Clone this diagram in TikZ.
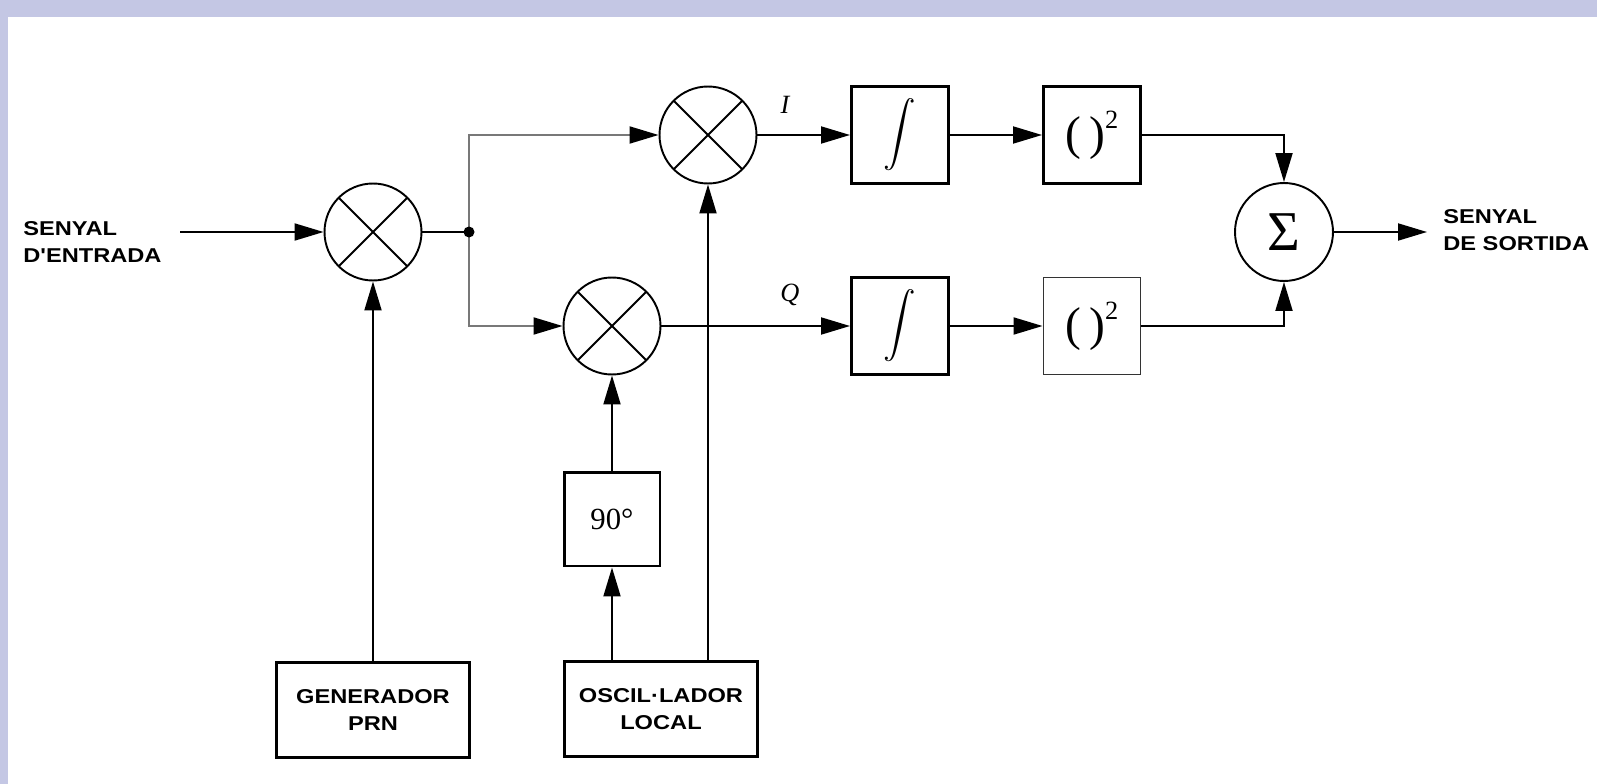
\documentclass[tikz,border=0pt]{standalone}
\usepackage{fontspec}
\usepackage{graphicx}
\setmainfont{Liberation Serif}
\newfontfamily\lblfont[FakeStretch=1.18]{Liberation Sans}
\usetikzlibrary{arrows.meta}
\definecolor{lavback}{RGB}{196,199,228}
\definecolor{splitgray}{RGB}{120,120,120}

\tikzset{
  mixer/.style={circle,draw,line width=1.1pt,minimum size=1.94cm,inner sep=0pt,
    path picture={\draw[line width=1.1pt]
      (path picture bounding box.north west) -- (path picture bounding box.south east)
      (path picture bounding box.north east) -- (path picture bounding box.south west);}},
  block/.style={draw,line width=1.7pt,minimum width=1.94cm,minimum height=1.94cm,inner sep=0pt},
  srcbox/.style={draw,line width=1.7pt,minimum width=3.86cm,minimum height=1.9cm,align=center,
    font=\lblfont\bfseries\fontsize{11.4}{15.4}\selectfont},
  caps/.style={align=left,inner sep=0pt,font=\lblfont\bfseries\fontsize{11.4}{15.4}\selectfont},
  sig/.style={line width=1.1pt,-{Triangle[length=0.58cm,width=0.34cm,color=black]}},
}

\newcommand{\intsym}{\scalebox{1.85}{$\displaystyle\int$}}
\newcommand{\sqsym}{{\fontsize{27}{27}\selectfont(\,)\raisebox{0.95ex}{\fontsize{15}{15}\selectfont 2}}}

\begin{document}
\begin{tikzpicture}[x=0.02cm,y=-0.02cm]
    % background
    \fill[lavback] (0,0) rectangle (1597,784);
    \fill[white] (8,17) rectangle (1597,784);
    \useasboundingbox (0,0) rectangle (1597,784);

    % blocks
    \node[mixer] (mixA) at (373,232) {};
    \node[mixer] (mixI) at (708,135) {};
    \node[mixer] (mixQ) at (612,326) {};
    \node[block] (intI) at (900,135) {\intsym};
    \node[block] (intQ) at (900,326) {\intsym};
    \node[block] (sqI) at (1092,135) {\sqsym};
    \node[block,line width=1.1pt,draw=black!80] (sqQ) at (1092,326) {\sqsym};
    \node[circle,draw,line width=1.1pt,minimum size=1.96cm,inner sep=0pt,font=\fontsize{32}{32}\selectfont] (sum) at (1284,232) {Σ};
    \node[block,minimum width=1.92cm,minimum height=1.88cm] (ph) at (612,519) {\fontsize{17.5}{17.5}\selectfont 90°};
    \node[srcbox] (prn) at (373,710) {GENERADOR\\PRN};
    \node[srcbox] (osc) at (661,709) {OSCIL·LADOR\\LOCAL};

    % labels
    \node[caps,anchor=west] (inlbl) at (23,242) {SENYAL\\D'ENTRADA};
    \node[caps,anchor=west] (outlbl) at (1443,230) {SENYAL\\DE SORTIDA};
    \node[font=\fontsize{15}{15}\selectfont\itshape] (lblI) at (785,105) {I};
    \node[font=\fontsize{15}{15}\selectfont\itshape] (lblQ) at (790,295) {Q};

    \coordinate (inp) at (180,232);
    \coordinate (split) at (469,232);
    \coordinate (outp) at (1427,232);

    % connections
    \draw[sig] (inp) -- (mixA);
    \draw[line width=1.1pt] (mixA) -- (split);
    \draw[sig,draw=splitgray] (split) |- (mixI);
    \draw[sig,draw=splitgray] (split) |- (mixQ);
    \fill (split) circle (5.5);
    \draw[sig] (mixI) -- (intI);
    \draw[sig] (intI) -- (sqI);
    \draw[sig] (sqI) -| (sum);
    \draw[sig] (mixQ) -- (intQ);
    \draw[sig] (intQ) -- (sqQ);
    \draw[sig] (sqQ) -| (sum);
    \draw[sig] (sum) -- (outp);
    \draw[sig] (prn) -- (mixA);
    \draw[sig] (osc.north -| ph.south) -- (ph);
    \draw[sig] (ph) -- (mixQ);
    \draw[sig] (osc.north -| mixI.south) -- (mixI);
\end{tikzpicture}
\end{document}
